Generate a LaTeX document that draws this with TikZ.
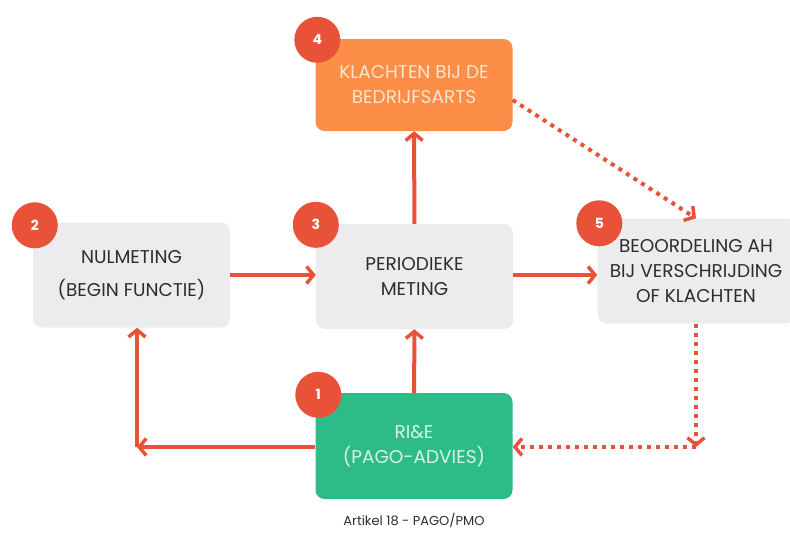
\documentclass[tikz,border=0pt]{standalone}
\usepackage{fontspec}
\setmainfont{Poppins}
\usetikzlibrary{arrows.meta, positioning, calc}
\definecolor{pgred}{RGB}{232, 82, 56}
\definecolor{pgorange}{RGB}{252, 142, 72}
\definecolor{pggreen}{RGB}{45, 188, 136}
\definecolor{pggray}{RGB}{236, 236, 238}
\definecolor{pgtext}{RGB}{45, 45, 45}
\definecolor{pgcream}{RGB}{253, 228, 205}
\definecolor{pgmint}{RGB}{215, 243, 230}
\tikzset{
  stepbox/.style={rounded corners=9pt, minimum width=197pt, minimum height=105pt,
    inner sep=0pt, align=center, text=pgtext, fill=pggray,
    font=\fontsize{18.5}{25}\selectfont},
  badge/.style={circle, fill=pgred, minimum size=46pt, inner sep=0pt,
    text=white, font=\fontsize{14}{14}\selectfont\bfseries},
  arr/.style={draw=pgred, line width=4pt,
    -{Straight Barb[length=7pt, width=17pt, line width=3.5pt]}},
  dotarr/.style={arr, dash pattern=on 4pt off 5pt}
}

\begin{document}
\begin{tikzpicture}[x=1pt, y=-1pt]
  \useasboundingbox (0,0) rectangle (790,538);
  % steps
  \node[stepbox] (nul) at (131.5,275) {NULMETING\\[8pt](BEGIN FUNCTIE)};
  \node[stepbox] (per) at (414.5,276.5) {PERIODIEKE\\METING};
  \node[stepbox, fill=pgorange, text=pgcream, minimum height=92pt] (kla) at (414,85) {KLACHTEN BIJ DE\\BEDRIJFSARTS};
  \node[stepbox] (beo) at (696,271) {BEOORDELING AH\\BIJ VERSCHRIJDING\\OF KLACHTEN};
  \node[stepbox, fill=pggreen, text=pgmint, minimum height=106pt] (rie) at (414,446) {RI\&E\\(PAGO-ADVIES)};
  % badges
  \node[badge] (b1) at ([shift={(3pt,-2pt)}]rie.north west) {1};
  \node[badge] (b2) at ([shift={(2pt,-3pt)}]nul.north west) {2};
  \node[badge] (b3) at ([shift={(0pt,-1pt)}]per.north west) {3};
  \node[badge] (b4) at ([shift={(2pt,-1pt)}]kla.north west) {4};
  \node[badge] (b5) at ([shift={(2pt,-5pt)}]beo.north west) {5};
  % corners
  \coordinate (c1) at (137,447);
  \coordinate (c5) at (beo.south |- c1);
  % solid arrows
  \draw[arr] (nul.east) -- (nul.east -| per.west);
  \draw[arr] (nul.east -| per.east) -- (nul.east -| beo.west);
  \draw[arr] (per) -- (kla);
  \draw[arr] (rie) -- (per);
  \draw[arr] (rie.west |- c1) -- (c1);
  \draw[arr] (c1) -- (c1 |- nul.south);
  % dotted arrows
  \draw[dotarr] ([yshift=-15pt]kla.east) -- (beo.north);
  \draw[dotarr] (beo.south) -- (c5);
  \draw[dotarr] (c5) -- (rie.east |- c5);
  % caption
  \node[font=\fontsize{13}{13}\selectfont, text=pgtext] (cap) at (414,520) {Artikel 18 - PAGO/PMO};
\end{tikzpicture}
\end{document}
